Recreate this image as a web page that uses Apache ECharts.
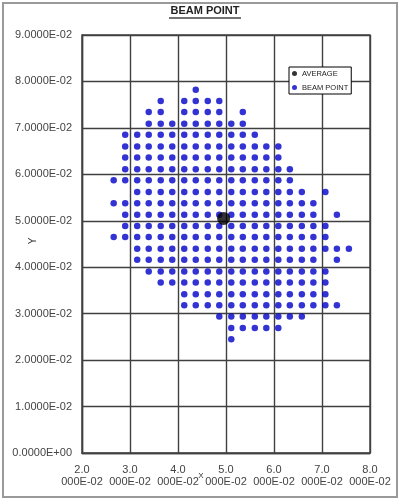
<!DOCTYPE html>
<html>
<head>
<meta charset="utf-8">
<script src="https://cdn.jsdelivr.net/npm/echarts@6/dist/echarts.min.js"></script>
<style>
  html, body { margin: 0; padding: 0; background: #fff; }
  #chart { width: 400px; height: 499px; }
</style>
</head>
<body>
<div id="chart"></div>
<script>
// column positions (x) of the beam grid
const xCols = [0.0266, 0.0290, 0.0315, 0.0339, 0.0364, 0.0388, 0.0413, 0.0437, 0.0462, 0.0486,
  0.0511, 0.0535, 0.0560, 0.0584, 0.0609, 0.0633, 0.0658, 0.0682, 0.0707, 0.0731, 0.0756];
// row positions (y), top row first
const yRows = [0.0782, 0.0758, 0.0734, 0.0709, 0.0685, 0.0660, 0.0636, 0.0611, 0.0587, 0.0562,
  0.0538, 0.0513, 0.0489, 0.0465, 0.0440, 0.0416, 0.0391, 0.0367, 0.0342, 0.0318, 0.0294, 0.0269, 0.0245];
// for each row: runs of column indexes that carry a point [from, to]
const rowRuns = [
  [[7, 7]],
  [[4, 4], [6, 9]],
  [[3, 4], [6, 9], [11, 11]],
  [[3, 11]],
  [[1, 12]],
  [[1, 14]],
  [[1, 14]],
  [[1, 15]],
  [[0, 15]],
  [[2, 16], [18, 18]],
  [[0, 17]],
  [[1, 17], [19, 19]],
  [[1, 18]],
  [[0, 18]],
  [[2, 20]],
  [[2, 17], [19, 19]],
  [[3, 18]],
  [[4, 18]],
  [[6, 18]],
  [[6, 19]],
  [[9, 16]],
  [[10, 14]],
  [[10, 10]]
];
const average = [[0.0495, 0.0505]];

const xTickLabels = ['2.0\n000E-02', '3.0\n000E-02', '4.0\n000E-02', '5.0\n000E-02',
  '6.0\n000E-02', '7.0\n000E-02', '8.0\n000E-02'];
const yTickLabels = ['0.0000E+00', '1.0000E-02', '2.0000E-02', '3.0000E-02', '4.0000E-02',
  '5.0000E-02', '6.0000E-02', '7.0000E-02', '8.0000E-02', '9.0000E-02'];

const beamData = [];
rowRuns.forEach((runs, r) => {
  runs.forEach(([a, b]) => {
    for (let c = a; c <= b; c++) beamData.push([xCols[c], yRows[r]]);
  });
});

const font = "'Liberation Sans', Arial, sans-serif";
const lineColor = '#404040';

const chart = echarts.init(document.getElementById('chart'));
chart.setOption({
  animation: false,
  backgroundColor: '#fff',
  textStyle: { fontFamily: font },
  grid: {
    left: 82, top: 35, width: 288, height: 418,
    show: true, borderColor: lineColor, borderWidth: 1.4
  },
  legend: {
    data: ['AVERAGE', 'BEAM POINT'],
    orient: 'vertical',
    left: 289, top: 67,
    icon: 'circle',
    itemWidth: 5, itemHeight: 5, itemGap: 5,
    padding: [2, 3, 2, 3],
    borderColor: '#000', borderWidth: 1, borderRadius: 0,
    backgroundColor: '#fff',
    textStyle: { fontSize: 7.5, lineHeight: 9, color: '#222', fontFamily: font }
  },
  xAxis: {
    type: 'value', min: 0.02, max: 0.08, interval: 0.01,
    axisLine: { show: true, lineStyle: { color: lineColor, width: 1.4 } },
    axisTick: { show: false },
    splitLine: { show: true, lineStyle: { color: lineColor, width: 1.4 } },
    axisLabel: {
      margin: 11, fontSize: 11, lineHeight: 12, color: '#444', fontFamily: font,
      showMinLabel: true, showMaxLabel: true,
      formatter: v => xTickLabels[Math.round(v * 100) - 2]
    }
  },
  yAxis: {
    type: 'value', min: 0, max: 0.09, interval: 0.01,
    axisLine: { show: true, lineStyle: { color: lineColor, width: 1.4 } },
    axisTick: { show: false },
    splitLine: { show: true, lineStyle: { color: lineColor, width: 1.4 } },
    axisLabel: {
      margin: 10, fontSize: 11, color: '#444', fontFamily: font,
      showMinLabel: true, showMaxLabel: true,
      formatter: v => yTickLabels[Math.round(v * 100)]
    }
  },
  series: [
    {
      name: 'BEAM POINT', type: 'scatter', data: beamData,
      symbolSize: 6.5, itemStyle: { color: '#0000c8' }, z: 2
    },
    {
      name: 'AVERAGE', type: 'scatter', data: average,
      symbolSize: 13, itemStyle: { color: '#000' }, z: 3
    }
  ],
  graphic: [
    {
      type: 'rect', shape: { x: 3, y: 3, width: 394, height: 494 },
      style: { fill: 'none', stroke: '#9a9a9a', lineWidth: 2 }, silent: true
    },
    {
      type: 'text', x: 205, y: 11,
      style: { text: 'BEAM POINT', font: 'bold 11px ' + font, fill: '#222',
        textAlign: 'center', textVerticalAlign: 'middle' }
    },
    {
      type: 'line', shape: { x1: 169, y1: 18, x2: 241, y2: 18 },
      style: { stroke: '#444', lineWidth: 1.4 }
    },
    {
      type: 'text', x: 33, y: 241, rotation: Math.PI / 2,
      style: { text: 'Y', font: '10px ' + font, fill: '#333',
        textAlign: 'center', textVerticalAlign: 'middle' }
    },
    {
      type: 'text', x: 201, y: 476,
      style: { text: 'X', font: '8px ' + font, fill: '#333',
        textAlign: 'center', textVerticalAlign: 'middle' }
    }
  ]
});
</script>
</body>
</html>
